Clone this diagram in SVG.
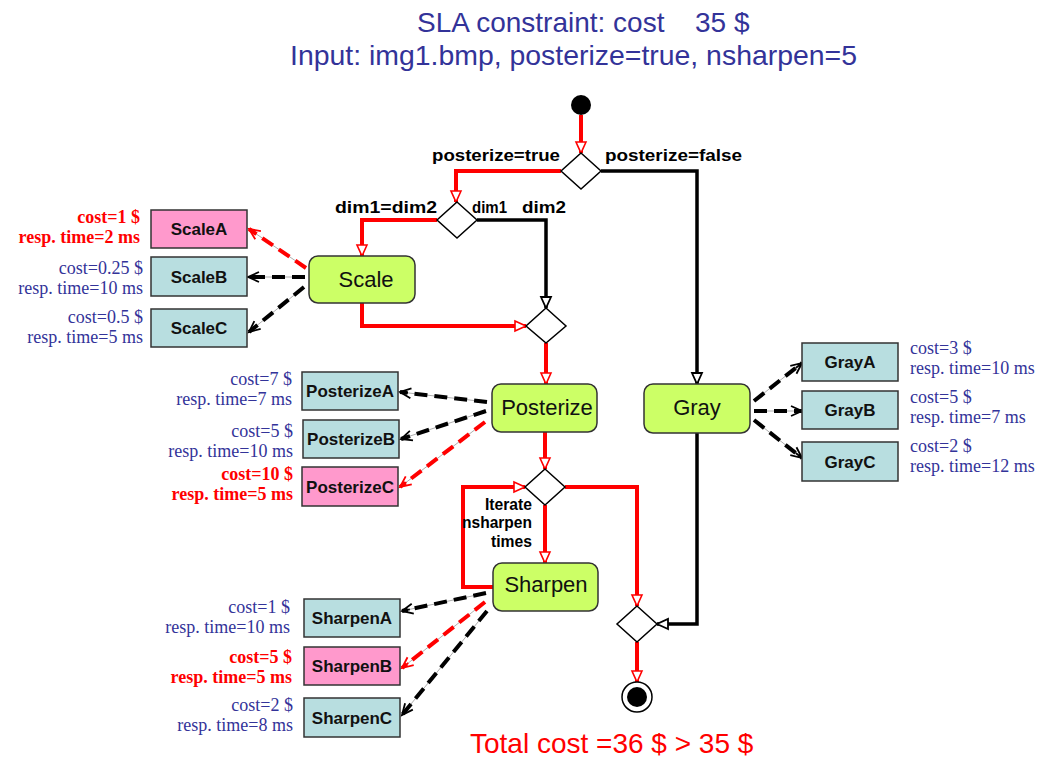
<svg xmlns="http://www.w3.org/2000/svg" width="1044" height="760" viewBox="0 0 1044 760">
<style>
.title{font-family:"Liberation Sans",Arial,sans-serif;font-size:28px;fill:#333399}
.total{font-family:"Liberation Sans",Arial,sans-serif;font-size:28px;fill:#ff0000}
.act rect{fill:#ccff66;stroke:#333;stroke-width:1.5}
.act text{font-family:"Liberation Sans",Arial,sans-serif;font-size:22px;fill:#111;text-anchor:middle}
.opt rect{fill:#b8dee0;stroke:#333;stroke-width:1.5}
.opt.sel rect{fill:#ff99cc}
.opt text.n{font-family:"Liberation Sans",Arial,sans-serif;font-weight:bold;font-size:17px;fill:#111;text-anchor:middle}
.q{font-family:"Liberation Serif","Times New Roman",serif;font-size:18px;fill:#333399}
.opt.sel .q{fill:#ff0000;font-weight:bold}
.lbl{font-family:"Liberation Sans",Arial,sans-serif;font-weight:bold;font-size:17px;fill:#000}
.dia{fill:#fff;stroke:#000;stroke-width:1.5}
.fr{fill:none;stroke:#ff0000;stroke-width:4}
.fb{fill:none;stroke:#000;stroke-width:3.5}
.thin{fill:none;stroke:#999;stroke-width:0.8}
.db{fill:none;stroke:#000;stroke-width:4;stroke-dasharray:13 7}
.dr{fill:none;stroke:#ff0000;stroke-width:4;stroke-dasharray:13 7}
</style>
<defs>
<marker id="ar" markerUnits="userSpaceOnUse" markerWidth="14" markerHeight="12" refX="12" refY="6" orient="auto" overflow="visible">
<path d="M1,1 L12,6 L1,11 z" fill="#fff" stroke="#ff0000" stroke-width="1.6"/>
</marker>
<marker id="ab" markerUnits="userSpaceOnUse" markerWidth="14" markerHeight="12" refX="12" refY="6" orient="auto" overflow="visible">
<path d="M1,1 L12,6 L1,11 z" fill="#fff" stroke="#000" stroke-width="1.8"/>
</marker>
<marker id="vb" markerUnits="userSpaceOnUse" markerWidth="14" markerHeight="12" refX="12" refY="6" orient="auto" overflow="visible">
<path d="M1,1 L12,6 L1,11 M4,6 L12,6" fill="none" stroke="#000" stroke-width="1.8"/>
</marker>
<marker id="vr" markerUnits="userSpaceOnUse" markerWidth="14" markerHeight="12" refX="12" refY="6" orient="auto" overflow="visible">
<path d="M1,1 L12,6 L1,11 M4,6 L12,6" fill="none" stroke="#ff0000" stroke-width="1.8"/>
</marker>
</defs>
<rect width="1044" height="760" fill="#fff"/>

<text class="title" x="417" y="32">SLA constraint: cost<tspan x="695">35 $</tspan></text>
<text class="title" x="290" y="65" textLength="567" lengthAdjust="spacingAndGlyphs">Input: img1.bmp, posterize=true, nsharpen=5</text>

<g id="connectors">
<path class="fr" d="M581,115 L581,153" marker-end="url(#ar)"/>
<path class="fr" d="M561,171 L456,171 L456,202" marker-end="url(#ar)"/>
<path class="fb" d="M601,171 L697,171 L697,384" marker-end="url(#ab)"/>
<path class="fr" d="M437,220 L362,220 L362,256" marker-end="url(#ar)"/>
<path class="fb" d="M477,220 L546,220 L546,308" marker-end="url(#ab)"/>
<path class="fr" d="M362,303 L362,326 L526,326" marker-end="url(#ar)"/>
<path class="fr" d="M546,343 L546,384" marker-end="url(#ar)"/>
<path class="fr" d="M545,432 L545,469" marker-end="url(#ar)"/>
<path class="fr" d="M545,505 L545,563" marker-end="url(#ar)"/>
<path class="fr" d="M493,587 L463,587 L463,487 L525,487" marker-end="url(#ar)"/>
<path class="fr" d="M565,487 L637,487 L637,606" marker-end="url(#ar)"/>
<path class="fb" d="M697,433 L697,624 L657,624" marker-end="url(#ab)"/>
<path class="fr" d="M637,642 L637,682" marker-end="url(#ar)"/>
<path class="thin" d="M306,268 L249,229"/><path class="dr" d="M306,268 L249,229" marker-end="url(#vr)"/>
<path class="thin" d="M305,277 L248,277"/><path class="db" d="M305,277 L248,277" marker-end="url(#vb)"/>
<path class="thin" d="M304,287 L249,332"/><path class="db" d="M304,287 L249,332" marker-end="url(#vb)"/>
<path class="thin" d="M487,402 L400,392"/><path class="db" d="M487,402 L400,392" marker-end="url(#vb)"/>
<path class="thin" d="M486,411 L401,439"/><path class="db" d="M486,411 L401,439" marker-end="url(#vb)"/>
<path class="thin" d="M485,422 L400,487"/><path class="dr" d="M485,422 L400,487" marker-end="url(#vr)"/>
<path class="thin" d="M486,593 L402,611"/><path class="db" d="M486,593 L402,611" marker-end="url(#vb)"/>
<path class="thin" d="M485,602 L402,668"/><path class="dr" d="M485,602 L402,668" marker-end="url(#vr)"/>
<path class="thin" d="M487,611 L402,715"/><path class="db" d="M487,611 L402,715" marker-end="url(#vb)"/>
<path class="thin" d="M754,401 L802,363"/><path class="db" d="M754,401 L802,363" marker-end="url(#vb)"/>
<path class="thin" d="M754,411 L802,411"/><path class="db" d="M754,411 L802,411" marker-end="url(#vb)"/>
<path class="thin" d="M754,420 L802,458"/><path class="db" d="M754,420 L802,458" marker-end="url(#vb)"/>
<text class="lbl" x="432" y="161" textLength="128" lengthAdjust="spacingAndGlyphs">posterize=true</text>
<text class="lbl" x="605" y="161" textLength="137" lengthAdjust="spacingAndGlyphs">posterize=false</text>
<text class="lbl" x="335" y="213" textLength="102" lengthAdjust="spacingAndGlyphs">dim1=dim2</text>
<text class="lbl" x="472" y="213" font-size="14" textLength="35" lengthAdjust="spacingAndGlyphs">dim1</text>
<text class="lbl" x="522" y="213" textLength="44" lengthAdjust="spacingAndGlyphs">dim2</text>
<text class="lbl" font-size="14.5" x="485" y="510" textLength="47" lengthAdjust="spacingAndGlyphs">Iterate</text>
<text class="lbl" font-size="14.5" x="462" y="528" textLength="70" lengthAdjust="spacingAndGlyphs">nsharpen</text>
<text class="lbl" font-size="14.5" x="491" y="547" textLength="41" lengthAdjust="spacingAndGlyphs">times</text>
</g>

<g id="start"><circle cx="581" cy="105" r="10" fill="#000"/></g>
<g id="d1"><polygon class="dia" points="581,153 601,171 581,189 561,171"/></g>
<g id="d2"><polygon class="dia" points="457,202 477,220 457,238 437,220"/></g>
<g id="d3"><polygon class="dia" points="546,308 566,326 546,343 526,326"/></g>
<g id="d4"><polygon class="dia" points="545,469 565,487 545,505 525,487"/></g>
<g id="d5"><polygon class="dia" points="637,606 657,624 637,642 617,624"/></g>
<g id="end"><circle cx="637" cy="697" r="15" fill="#fff" stroke="#000" stroke-width="1.5"/><circle cx="637" cy="697" r="10" fill="#000"/></g>

<g id="Scale" class="act"><rect x="309" y="256" width="106" height="47" rx="9"/><text x="366" y="287">Scale</text></g>
<g id="Posterize" class="act"><rect x="492" y="384" width="105" height="48" rx="9"/><text x="547" y="415">Posterize</text></g>
<g id="Sharpen" class="act"><rect x="493" y="563" width="105" height="48" rx="9"/><text x="546" y="592">Sharpen</text></g>
<g id="Gray" class="act"><rect x="644" y="384" width="106" height="49" rx="9"/><text x="697" y="415">Gray</text></g>

<g id="ScaleA" class="opt sel"><rect x="151" y="210" width="96" height="38"/><text class="n" x="199" y="235">ScaleA</text>
<text class="q" text-anchor="end" x="140" y="223">cost=1 $</text><text class="q" text-anchor="end" x="140" y="243">resp. time=2 ms</text></g>
<g id="ScaleB" class="opt"><rect x="151" y="257" width="96" height="39"/><text class="n" x="199" y="283">ScaleB</text>
<text class="q" text-anchor="end" x="143" y="274">cost=0.25 $</text><text class="q" text-anchor="end" x="143" y="294">resp. time=10 ms</text></g>
<g id="ScaleC" class="opt"><rect x="151" y="309" width="96" height="38"/><text class="n" x="199" y="334">ScaleC</text>
<text class="q" text-anchor="end" x="143" y="323">cost=0.5 $</text><text class="q" text-anchor="end" x="143" y="343">resp. time=5 ms</text></g>

<g id="PosterizeA" class="opt"><rect x="302" y="372" width="96" height="38"/><text class="n" x="350" y="397">PosterizeA</text>
<text class="q" text-anchor="end" x="292" y="385">cost=7 $</text><text class="q" text-anchor="end" x="292" y="405">resp. time=7 ms</text></g>
<g id="PosterizeB" class="opt"><rect x="303" y="420" width="96" height="38"/><text class="n" x="351" y="445">PosterizeB</text>
<text class="q" text-anchor="end" x="293" y="437">cost=5 $</text><text class="q" text-anchor="end" x="293" y="457">resp. time=10 ms</text></g>
<g id="PosterizeC" class="opt sel"><rect x="302" y="467" width="96" height="39"/><text class="n" x="350" y="493">PosterizeC</text>
<text class="q" text-anchor="end" x="293" y="480">cost=10 $</text><text class="q" text-anchor="end" x="293" y="500">resp. time=5 ms</text></g>

<g id="SharpenA" class="opt"><rect x="304" y="599" width="96" height="38"/><text class="n" x="352" y="624">SharpenA</text>
<text class="q" text-anchor="end" x="290" y="613">cost=1 $</text><text class="q" text-anchor="end" x="290" y="633">resp. time=10 ms</text></g>
<g id="SharpenB" class="opt sel"><rect x="304" y="647" width="96" height="38"/><text class="n" x="352" y="672">SharpenB</text>
<text class="q" text-anchor="end" x="292" y="663">cost=5 $</text><text class="q" text-anchor="end" x="292" y="683">resp. time=5 ms</text></g>
<g id="SharpenC" class="opt"><rect x="304" y="698" width="96" height="39"/><text class="n" x="352" y="724">SharpenC</text>
<text class="q" text-anchor="end" x="293" y="711">cost=2 $</text><text class="q" text-anchor="end" x="293" y="731">resp. time=8 ms</text></g>

<g id="GrayA" class="opt"><rect x="802" y="343" width="96" height="38"/><text class="n" x="850" y="368">GrayA</text>
<text class="q" x="910" y="354">cost=3 $</text><text class="q" x="910" y="374">resp. time=10 ms</text></g>
<g id="GrayB" class="opt"><rect x="802" y="391" width="96" height="38"/><text class="n" x="850" y="416">GrayB</text>
<text class="q" x="910" y="403">cost=5 $</text><text class="q" x="910" y="423">resp. time=7 ms</text></g>
<g id="GrayC" class="opt"><rect x="802" y="442" width="96" height="39"/><text class="n" x="850" y="468">GrayC</text>
<text class="q" x="910" y="452">cost=2 $</text><text class="q" x="910" y="472">resp. time=12 ms</text></g>

<text class="total" x="470" y="753">Total cost =36 $ &gt; 35 $</text>
</svg>
